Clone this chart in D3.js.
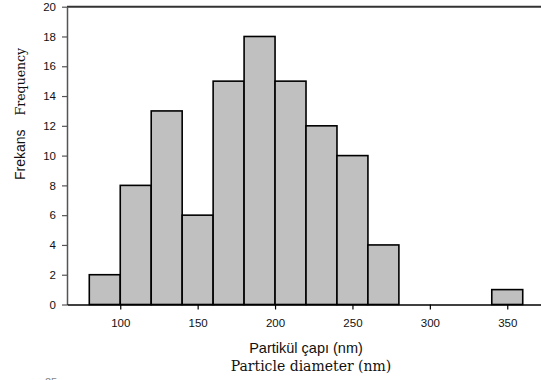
<!DOCTYPE html>
<html><head><meta charset="utf-8">
<script src="https://cdn.jsdelivr.net/npm/d3@7"></script>
<style>body{margin:0;background:#fff}svg{display:block}</style>
</head><body>
<svg id="c" width="541" height="380"></svg>
<script>
const binStarts = [80,100,120,140,160,180,200,220,240,260,340];
const binWidth = 20;
const counts = [2,8,13,6,15,18,15,12,10,4,1];
const xTicks = [100,150,200,250,300,350];
const yTicks = [0,2,4,6,8,10,12,14,16,18,20];

const svg = d3.select("#c");
const x = d3.scaleLinear().domain([65.6,371.8]).range([67,541]);
const y = d3.scaleLinear().domain([0,20]).range([304.5,6.7]);

// bars
svg.append("g").selectAll("rect").data(binStarts).join("rect")
  .attr("x", (d)=>x(d))
  .attr("width", (d)=>x(d+binWidth)-x(d))
  .attr("y", (d,i)=>y(counts[i]))
  .attr("height", (d,i)=>y(0)-y(counts[i]))
  .attr("fill","#c0c0c0").attr("stroke","#000").attr("stroke-width",1.6);

// top frame line
svg.append("line").attr("x1",67).attr("x2",541).attr("y1",y(20)).attr("y2",y(20))
  .attr("stroke","#333").attr("stroke-width",2);

// y axis
const ya = svg.append("g").attr("transform","translate(67,0)")
  .call(d3.axisLeft(y).tickValues(yTicks).tickSize(5).tickSizeOuter(0).tickPadding(6));
ya.select(".domain").attr("stroke","#555").attr("stroke-width",1.5);
ya.selectAll(".tick line").attr("stroke","#555").attr("stroke-width",1.2);
ya.selectAll("text").attr("font-family","Liberation Sans, Arial, sans-serif").attr("font-size",11.5).attr("fill","#111");

// x axis
const xa = svg.append("g").attr("transform",`translate(0,${y(0)})`)
  .call(d3.axisBottom(x).tickValues(xTicks).tickSize(5).tickSizeOuter(0).tickPadding(9));
xa.select(".domain").attr("stroke","#000").attr("stroke-width",1.6);
xa.selectAll(".tick line").attr("stroke","#000").attr("stroke-width",1.2);
xa.selectAll("text").attr("font-family","Liberation Sans, Arial, sans-serif").attr("font-size",11.5).attr("fill","#111");

// x titles
svg.append("text").attr("x",306).attr("y",353).attr("text-anchor","middle")
  .attr("font-family","Liberation Sans, Arial, sans-serif").attr("font-size",14.5).attr("fill","#111")
  .text("Partikül çapı (nm)");
svg.append("text").attr("x",311).attr("y",371).attr("text-anchor","middle")
  .attr("font-family","DejaVu Serif, serif").attr("font-size",14).attr("fill","#111")
  .text("Particle diameter (nm)");

// y title
const yt = svg.append("text").attr("transform","translate(25,180) rotate(-90)").attr("text-anchor","start").attr("fill","#111");
yt.append("tspan").attr("font-family","Liberation Sans, Arial, sans-serif").attr("font-size",14).text("Frekans");
yt.append("tspan").attr("font-family","DejaVu Serif, serif").attr("font-size",12.5).attr("dx",14).text("Frequency");

// clipped fragment of a neighbouring axis label (cut off in the reference as well)
svg.append("text").attr("x",51).attr("y",386).attr("text-anchor","middle")
  .attr("font-family","Liberation Sans, Arial, sans-serif").attr("font-size",11).attr("fill","#888").text("25");
</script>
</body></html>
